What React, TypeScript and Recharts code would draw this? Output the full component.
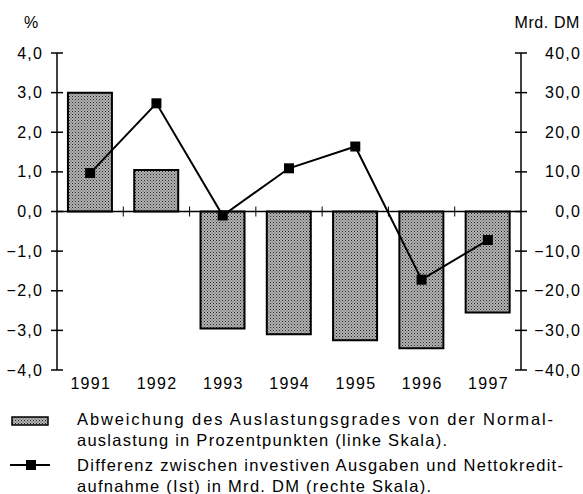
import React from 'react';
import { ComposedChart, Bar, Line, XAxis, YAxis, ReferenceLine } from 'recharts';

const years = ['1991', '1992', '1993', '1994', '1995', '1996', '1997'];
const auslastung = [3.0, 1.05, -2.95, -3.1, -3.25, -3.45, -2.55];
const differenz = [9.7, 27.3, -1.0, 10.9, 16.4, -17.2, -7.2];
const leftTicks = [-4, -3, -2, -1, 0, 1, 2, 3, 4];
const rightTicks = [-40, -30, -20, -10, 0, 10, 20, 30, 40];
const legendBar = ['Abweichung des Auslastungsgrades von der Normal-', 'auslastung in Prozentpunkten (linke Skala).'];
const legendLine = ['Differenz zwischen investiven Ausgaben und Nettokredit-', 'aufnahme (Ist) in Mrd. DM (rechte Skala).'];

const data = years.map((y, i) => ({ year: y, a: auslastung[i], d: differenz[i] }));

const FONT = '"Liberation Sans", Arial, Helvetica, sans-serif';
const LS = 1.3;
const fmt = (v: number) => v.toFixed(1).replace('.', ',').replace('-', '\u2212');

const LeftTick = (props: any) => {
  const { x, y, payload } = props;
  return (
    <g>
      <line x1={x - 6} x2={x + 6} y1={y} y2={y} stroke="#000" strokeWidth={1.5} />
      <text x={x - 15 + LS} y={y} dy={5.5} textAnchor="end" fontSize={16} fontFamily={FONT} fill="#000" letterSpacing={LS}>
        {fmt(payload.value)}
      </text>
    </g>
  );
};

const RightTick = (props: any) => {
  const { x, y, payload } = props;
  return (
    <g>
      <line x1={x - 6} x2={x + 6} y1={y} y2={y} stroke="#000" strokeWidth={1.5} />
      <text x={x + 59 + LS} y={y} dy={5.5} textAnchor="end" fontSize={16} fontFamily={FONT} fill="#000" letterSpacing={LS}>
        {fmt(payload.value)}
      </text>
    </g>
  );
};

const XTick = (props: any) => {
  const { x, y, payload } = props;
  return (
    <text x={x + LS / 2} y={y} dy={11} textAnchor="middle" fontSize={16} fontFamily={FONT} fill="#000" letterSpacing={LS}>
      {payload.value}
    </text>
  );
};

const ZeroLine = (props: any) => {
  const { x1, x2, y1 } = props;
  const n = years.length;
  const step = (x2 - x1) / n;
  const ticks = [];
  for (let k = 1; k < n; k++) {
    const tx = x1 + step * k;
    ticks.push(<line key={k} x1={tx} x2={tx} y1={y1 - 5} y2={y1 + 5} stroke="#000" strokeWidth={1} />);
  }
  return (
    <g>
      <line x1={x1} x2={x2} y1={y1} y2={y1} stroke="#000" strokeWidth={1.5} />
      {ticks}
    </g>
  );
};

const SquareDot = (props: any) => {
  const { cx, cy } = props;
  if (cx == null || cy == null) return null;
  return <rect x={cx - 5} y={cy - 5} width={10} height={10} fill="#000" />;
};

const Stipple = ({ id }: { id: string }) => (
  <pattern id={id} width="3" height="3" patternUnits="userSpaceOnUse">
    <rect width="3" height="3" fill="#b4b4b4" />
    <rect x="0" y="0" width="1" height="1" fill="#222" />
    <rect x="1.5" y="1.5" width="1" height="1" fill="#444" />
  </pattern>
);

const legendLines = [...legendBar, ...legendLine];
const legendBaselines = [425, 446, 471, 492];
const legendWidths = [476, 370, 486, 354];

export default function App() {
  return (
    <div style={{ position: 'absolute', left: 0, top: 0, width: 583, height: 494, background: '#fff', fontFamily: FONT }}>
      <div style={{ position: 'absolute', left: 24, top: 13, fontSize: 16, lineHeight: '20px' }}>%</div>
      <div style={{ position: 'absolute', right: 3, top: 13, fontSize: 16, lineHeight: '20px', letterSpacing: 0.6 }}>Mrd. DM</div>
      <div style={{ position: 'absolute', left: 0, top: 0 }}>
        <ComposedChart
          width={583}
          height={400}
          data={data}
          margin={{ top: 53, right: 0, bottom: 0, left: 0 }}
          barCategoryGap="16.5%"
        >
          <defs>
            <Stipple id="stipple" />
          </defs>
          <XAxis dataKey="year" axisLine={false} tickLine={false} tick={<XTick />} height={30} interval={0} />
          <YAxis
            yAxisId="left"
            domain={[-4, 4]}
            ticks={leftTicks}
            width={57}
            tickSize={0}
            tickMargin={0}
            axisLine={{ stroke: '#000', strokeWidth: 1.5 }}
            tickLine={false}
            tick={<LeftTick />}
            interval={0}
          />
          <YAxis
            yAxisId="right"
            orientation="right"
            domain={[-40, 40]}
            ticks={rightTicks}
            width={62}
            tickSize={0}
            tickMargin={0}
            axisLine={{ stroke: '#000', strokeWidth: 1.5 }}
            tickLine={false}
            tick={<RightTick />}
            interval={0}
          />
          <Bar
            yAxisId="left"
            dataKey="a"
            fill="url(#stipple)"
            stroke="#000"
            strokeWidth={2}
            isAnimationActive={false}
          />
          <ReferenceLine yAxisId="left" y={0} shape={(p: any) => <ZeroLine {...p} />} />
          <Line
            yAxisId="right"
            dataKey="d"
            stroke="#000"
            strokeWidth={2}
            dot={<SquareDot />}
            activeDot={false}
            isAnimationActive={false}
          />
        </ComposedChart>
      </div>
      <svg width={583} height={94} style={{ position: 'absolute', left: 0, top: 400 }} viewBox="0 400 583 94">
        <defs>
          <Stipple id="stipple2" />
        </defs>
        <rect x={12} y={417} width={36} height={8} fill="url(#stipple2)" stroke="#000" strokeWidth={1.5} />
        <line x1={10} x2={50} y1={465} y2={465} stroke="#000" strokeWidth={2} />
        <rect x={26} y={460} width={10} height={10} fill="#000" />
        {legendLines.map((t, i) => (
          <text
            key={i}
            x={77}
            y={legendBaselines[i]}
            fontSize={16.5}
            fontFamily={FONT}
            fill="#000"
            textLength={legendWidths[i]}
            lengthAdjust="spacing"
          >
            {t}
          </text>
        ))}
      </svg>
    </div>
  );
}
